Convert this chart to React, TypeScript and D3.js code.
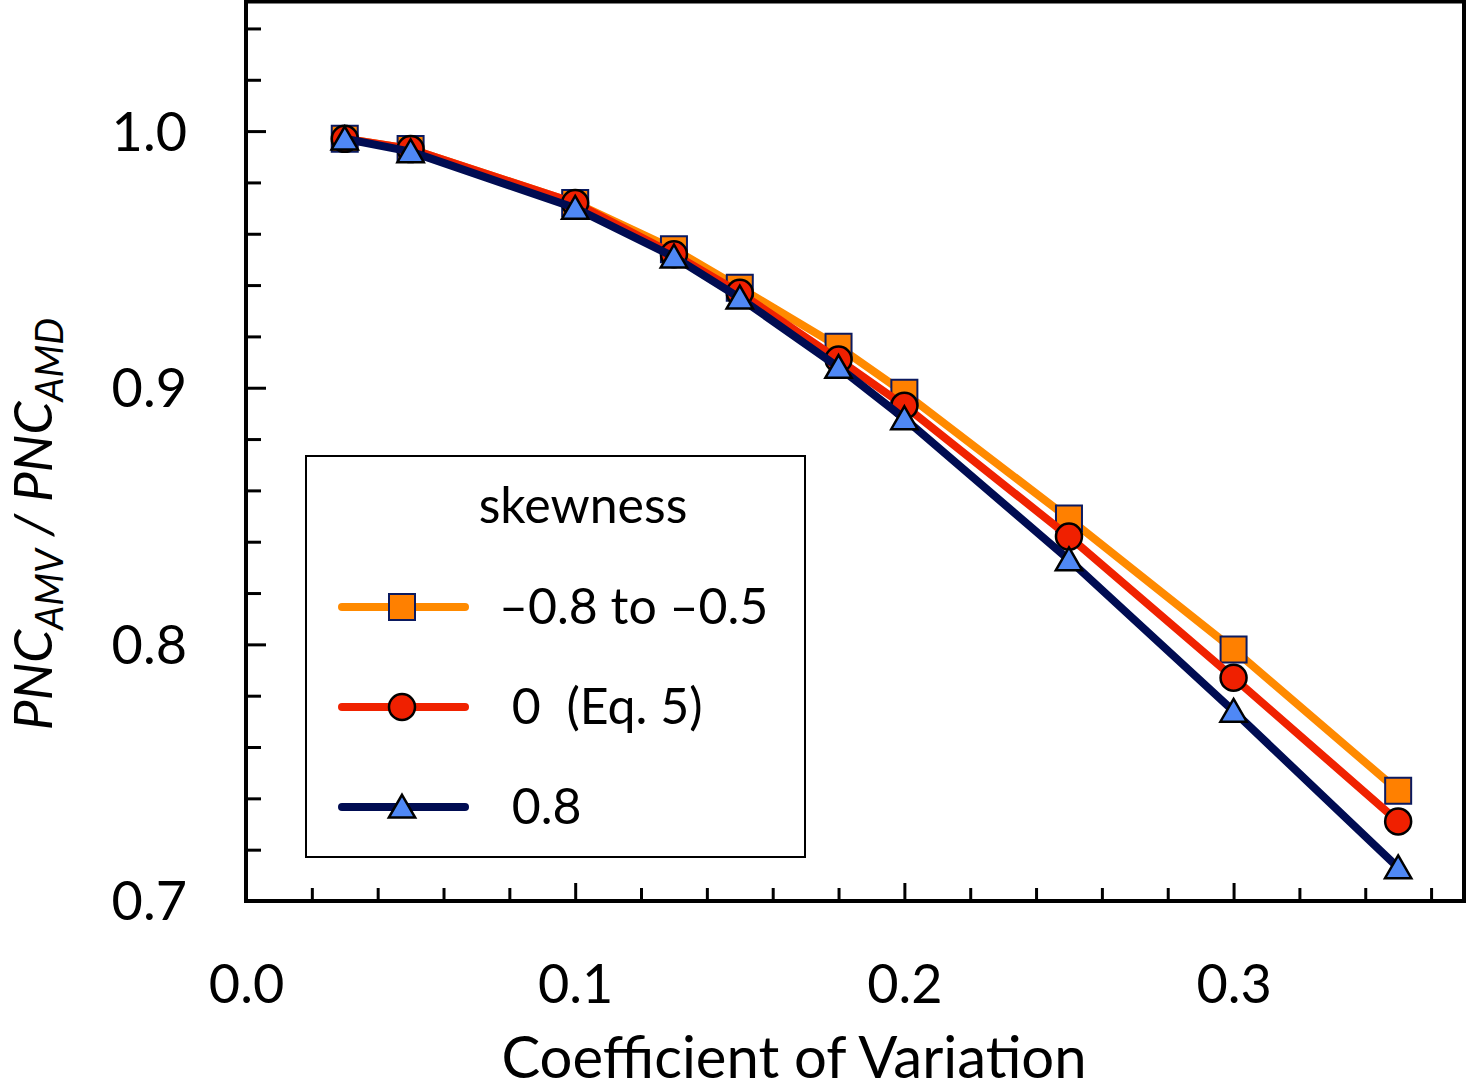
import { useEffect, useRef } from 'react';
import * as d3 from 'd3';

// coefficient of variation
const cv = [0.03, 0.05, 0.1, 0.13, 0.15, 0.18, 0.2, 0.25, 0.3, 0.35];

// PNC_AMV / PNC_AMD for each skewness
const negSkew = [0.997, 0.993, 0.972, 0.954, 0.939, 0.916, 0.898, 0.849, 0.798, 0.743];
const zeroSkew = [0.997, 0.993, 0.972, 0.952, 0.937, 0.911, 0.893, 0.842, 0.787, 0.731];
const posSkew = [0.997, 0.992, 0.970, 0.951, 0.935, 0.908, 0.888, 0.833, 0.774, 0.713];

const seriesNames = ['\u20130.8 to \u20130.5', '\u00a00  (Eq. 5)', '\u00a00.8'];

const xMajor = [0.0, 0.1, 0.2, 0.3];
const yMajor = [0.7, 0.8, 0.9, 1.0];

const W = 1466;
const H = 1091;
const FONT = 'Lato, "Open Sans", sans-serif';

type Series = {
  name: string;
  values: number[];
  line: string;
  fill: string;
  edge: string;
  shape: 'square' | 'circle' | 'triangle';
};

export default function App() {
  const svgRef = useRef<SVGSVGElement>(null);

  useEffect(() => {
    if (!svgRef.current) return;
    const svg = d3.select(svgRef.current);
    svg.selectAll('*').remove();

    const margin = { left: 246, right: 2, top: 1.5, bottom: 190 };
    const innerW = W - margin.left - margin.right;
    const innerH = H - margin.top - margin.bottom;

    const x = d3.scaleLinear().domain([0, 0.37]).range([0, innerW]);
    const y = d3.scaleLinear().domain([0.7, 1.0505]).range([innerH, 0]);

    const series: Series[] = [
      { name: seriesNames[0], values: negSkew, line: '#ff8a00', fill: '#ff8000', edge: '#0b1a60', shape: 'square' },
      { name: seriesNames[1], values: zeroSkew, line: '#f02200', fill: '#f02000', edge: '#000000', shape: 'circle' },
      { name: seriesNames[2], values: posSkew, line: '#000c52', fill: '#4f88f5', edge: '#000000', shape: 'triangle' },
    ];

    const g = svg.append('g').attr('transform', `translate(${margin.left},${margin.top})`);

    // minor ticks every 0.02 (inside)
    const xMinor = d3.range(0.02, 0.37, 0.02).filter((v) => !xMajor.some((m) => Math.abs(m - v) < 1e-6));
    const yMinor = d3.range(0.72, 1.05, 0.02).filter((v) => !yMajor.some((m) => Math.abs(m - v) < 1e-6));

    const axisStyle = (sel: d3.Selection<SVGGElement, unknown, null, undefined>) => {
      sel.select('.domain').remove();
      sel.selectAll('line').attr('stroke', '#000').attr('stroke-width', 3);
    };

    g.append('g')
      .attr('transform', `translate(0,${innerH})`)
      .call(d3.axisBottom(x).tickValues(xMinor).tickSize(-13).tickFormat(() => ''))
      .call(axisStyle);

    g.append('g')
      .attr('transform', `translate(0,${innerH})`)
      .call(d3.axisBottom(x).tickValues(xMajor).tickSize(-18).tickPadding(0).tickFormat(d3.format('.1f')))
      .call(axisStyle)
      .selectAll('text')
      .attr('y', 102)
      .attr('dy', 0)
      .attr('font-family', FONT)
      .attr('font-size', 54)
      .attr('fill', '#000');

    g.append('g')
      .call(d3.axisLeft(y).tickValues(yMinor).tickSize(-15).tickFormat(() => ''))
      .call(axisStyle);

    g.append('g')
      .call(d3.axisLeft(y).tickValues(yMajor).tickSize(-20).tickFormat(d3.format('.1f')))
      .call(axisStyle)
      .selectAll('text')
      .attr('x', -59)
      .attr('dy', '0.35em')
      .attr('font-family', FONT)
      .attr('font-size', 54)
      .attr('fill', '#000');

    // frame
    g.append('rect')
      .attr('x', 0)
      .attr('y', 0)
      .attr('width', innerW)
      .attr('height', innerH)
      .attr('fill', 'none')
      .attr('stroke', '#000')
      .attr('stroke-width', 4);

    const symbolFor = (shape: Series['shape']) =>
      shape === 'square'
        ? d3.symbol(d3.symbolSquare, 26 * 26)
        : shape === 'circle'
        ? d3.symbol(d3.symbolCircle, Math.PI * 13 * 13)
        : d3.symbol(d3.symbolTriangle, 300);

    const line = d3
      .line<number>()
      .x((_, i) => x(cv[i]))
      .y((d) => y(d));

    series.forEach((s) => {
      g.append('path')
        .attr('d', line(s.values))
        .attr('fill', 'none')
        .attr('stroke', s.line)
        .attr('stroke-width', 8)
        .attr('stroke-linejoin', 'round');

      g.selectAll(null)
        .data(s.values)
        .join('path')
        .attr('transform', (d, i) => `translate(${x(cv[i])},${y(d) + (s.shape === 'triangle' ? 3 : 0)})`)
        .attr('d', symbolFor(s.shape)())
        .attr('fill', s.fill)
        .attr('stroke', s.edge)
        .attr('stroke-width', s.shape === 'square' ? 2 : 2.5);
    });

    // legend
    const lg = svg.append('g').attr('transform', 'translate(306,456)');
    lg.append('rect')
      .attr('width', 499)
      .attr('height', 401)
      .attr('fill', '#fff')
      .attr('stroke', '#000')
      .attr('stroke-width', 2);
    lg.append('text')
      .attr('x', 277)
      .attr('y', 67)
      .attr('text-anchor', 'middle')
      .attr('font-family', FONT)
      .attr('font-size', 50)
      .text('skewness');

    series.forEach((s, i) => {
      const cy = 151 + i * 100;
      lg.append('line')
        .attr('x1', 36)
        .attr('x2', 159)
        .attr('y1', cy)
        .attr('y2', cy)
        .attr('stroke', s.line)
        .attr('stroke-width', 8)
        .attr('stroke-linecap', 'round');
      lg.append('path')
        .attr('transform', `translate(96,${cy + (s.shape === 'triangle' ? 3 : 0)})`)
        .attr('d', symbolFor(s.shape)())
        .attr('fill', s.fill)
        .attr('stroke', s.edge)
        .attr('stroke-width', s.shape === 'square' ? 2 : 2.5);
      lg.append('text')
        .attr('x', 193)
        .attr('y', cy + 17)
        .attr('font-family', FONT)
        .attr('font-size', 50)
        .attr('xml:space', 'preserve')
        .text(s.name);
    });

    // axis titles
    svg.append('text')
      .attr('x', 794)
      .attr('y', 1078)
      .attr('text-anchor', 'middle')
      .attr('font-family', FONT)
      .attr('font-size', 58)
      .text('Coefficient of Variation');

    const yl = svg.append('text')
      .attr('transform', 'translate(52,524) rotate(-90)')
      .attr('text-anchor', 'middle')
      .attr('font-family', FONT)
      .attr('font-style', 'italic')
      .attr('font-size', 53);
    yl.append('tspan').text('PNC');
    yl.append('tspan').attr('font-size', 38).attr('dy', 11).text('AMV');
    yl.append('tspan').attr('dy', -11).text(' / PNC');
    yl.append('tspan').attr('font-size', 38).attr('dy', 11).text('AMD');
  }, []);

  return (
    <svg
      ref={svgRef}
      width={W}
      height={H}
      style={{ position: 'absolute', left: 0, top: 0, background: '#fff' }}
    />
  );
}
